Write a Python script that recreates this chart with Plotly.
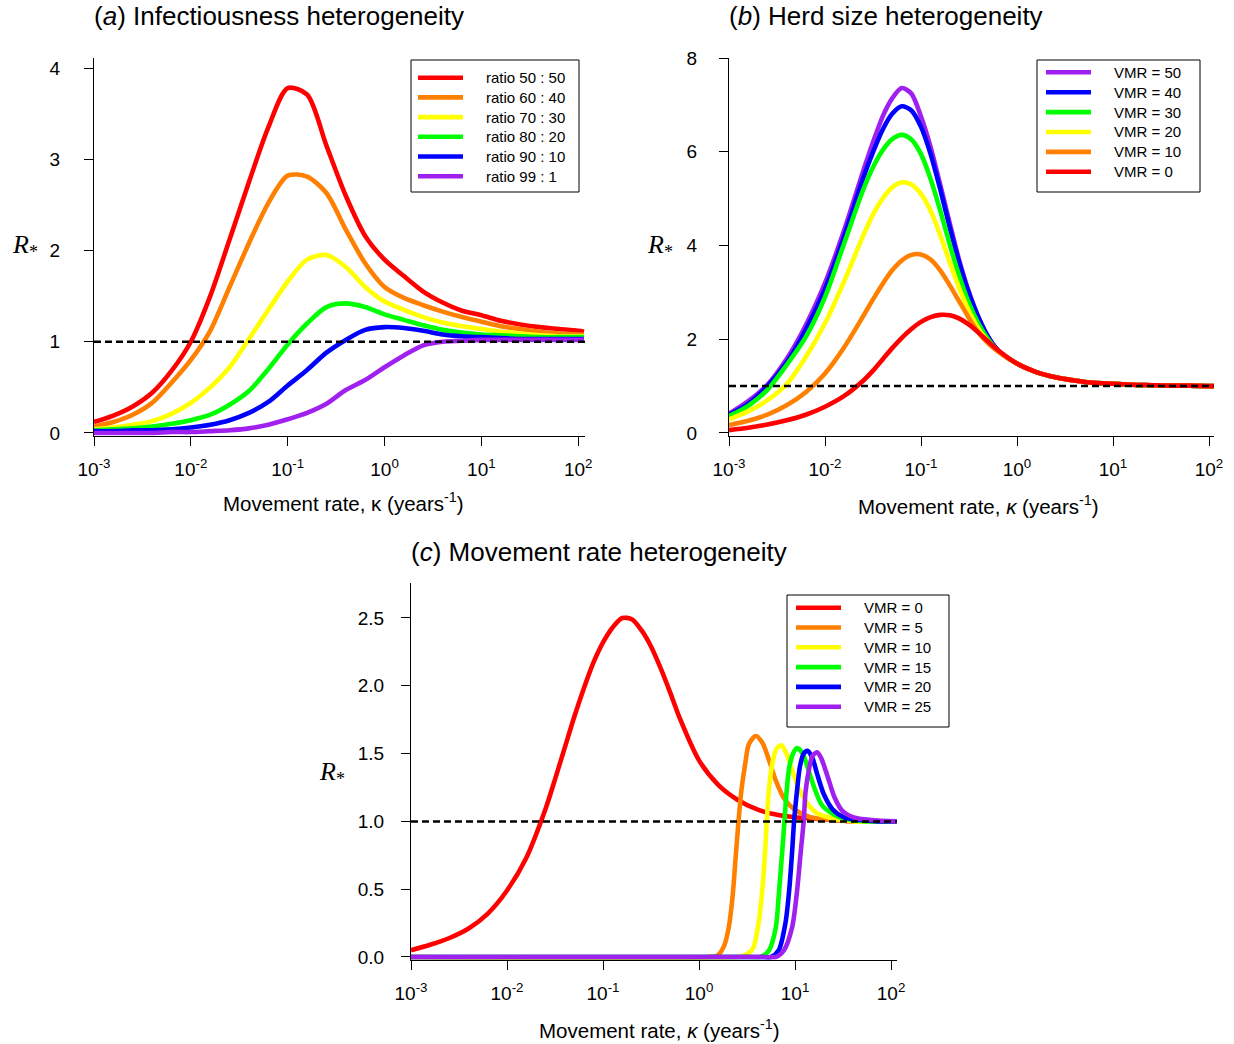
import numpy as np
import plotly.graph_objects as go

# ---------------- data (log10 of movement rate kappa) ----------------
log_kappa = [-3.0, -2.8, -2.6, -2.4, -2.2, -2.0, -1.8, -1.6, -1.4, -1.2, -1.0, -0.8, -0.6,
             -0.4, -0.2, 0.0, 0.2, 0.4, 0.6, 0.8, 1.0, 1.2, 1.4, 1.6, 1.8, 2.0, 2.06]
fine_log_kappa = [-3.0, -2.8, -2.6, -2.4, -2.2, -2.0, -1.8, -1.6, -1.5, -1.4, -1.3, -1.2, -1.1, -1.0,
                  -0.9, -0.8, -0.7, -0.6, -0.5, -0.4, -0.3, -0.2, 0.0, 0.2, 0.4, 0.6, 0.8, 1.0,
                  1.2, 1.4, 1.6, 1.8, 2.0, 2.06]

# (a) Infectiousness heterogeneity  (on log_kappa)
a_names = ["ratio 50 : 50", "ratio 60 : 40", "ratio 70 : 30", "ratio 80 : 20", "ratio 90 : 10", "ratio 99 : 1"]
a_r50 = [0.12, 0.19, 0.29, 0.44, 0.68, 1.00, 1.50, 2.12, 2.75, 3.35, 3.78, 3.71, 3.15, 2.60, 2.16, 1.90,
         1.72, 1.55, 1.43, 1.34, 1.29, 1.23, 1.19, 1.16, 1.14, 1.12, 1.11]
a_r60 = [0.07, 0.12, 0.20, 0.33, 0.55, 0.80, 1.12, 1.60, 2.08, 2.52, 2.82, 2.81, 2.63, 2.23, 1.86, 1.60,
         1.48, 1.40, 1.33, 1.27, 1.22, 1.17, 1.14, 1.11, 1.09, 1.08, 1.08]
a_r70 = [0.04, 0.06, 0.09, 0.13, 0.21, 0.33, 0.50, 0.72, 1.03, 1.35, 1.66, 1.90, 1.95, 1.82, 1.60, 1.44,
         1.35, 1.27, 1.21, 1.17, 1.14, 1.11, 1.09, 1.07, 1.06, 1.06, 1.06]
a_r80 = [0.03, 0.04, 0.05, 0.07, 0.10, 0.14, 0.20, 0.31, 0.46, 0.70, 0.97, 1.20, 1.38, 1.42, 1.38, 1.30,
         1.24, 1.18, 1.13, 1.10, 1.08, 1.07, 1.06, 1.05, 1.05, 1.05, 1.05]
a_r90 = [0.02, 0.02, 0.03, 0.03, 0.04, 0.06, 0.09, 0.14, 0.22, 0.34, 0.52, 0.69, 0.88, 1.02, 1.13, 1.16,
         1.15, 1.12, 1.08, 1.06, 1.05, 1.04, 1.03, 1.03, 1.03, 1.03, 1.03]
a_r99 = [0.00, 0.00, 0.00, 0.00, 0.01, 0.01, 0.02, 0.03, 0.05, 0.09, 0.15, 0.22, 0.32, 0.47, 0.58, 0.72,
         0.85, 0.96, 1.00, 1.01, 1.02, 1.02, 1.02, 1.02, 1.02, 1.02, 1.02]

# (b) Herd size heterogeneity  (on fine_log_kappa)
b_names = ["VMR = 50", "VMR = 40", "VMR = 30", "VMR = 20", "VMR = 10", "VMR = 0"]
b_vmr50 = [0.41, 0.68, 1.03, 1.58, 2.30, 3.20, 4.33, 5.60, 6.20, 6.75, 7.14, 7.36, 7.24, 6.75,
           6.10, 5.30, 4.47, 3.67, 3.00, 2.46, 2.05, 1.77, 1.48, 1.30, 1.19, 1.12, 1.07, 1.05,
           1.03, 1.02, 1.01, 1.01, 1.00, 1.00]
b_vmr40 = [0.39, 0.62, 1.00, 1.50, 2.20, 3.07, 4.20, 5.45, 5.99, 6.47, 6.81, 6.97, 6.88, 6.53,
           5.95, 5.20, 4.38, 3.62, 2.98, 2.46, 2.05, 1.77, 1.48, 1.30, 1.19, 1.12, 1.07, 1.05,
           1.03, 1.02, 1.01, 1.01, 1.00, 1.00]
b_vmr30 = [0.36, 0.58, 0.92, 1.45, 2.05, 2.90, 4.05, 5.20, 5.67, 6.03, 6.27, 6.36, 6.26, 5.95,
           5.42, 4.75, 4.02, 3.34, 2.77, 2.33, 2.00, 1.76, 1.48, 1.30, 1.19, 1.12, 1.07, 1.05,
           1.03, 1.02, 1.01, 1.01, 1.00, 1.00]
b_vmr20 = [0.29, 0.46, 0.70, 1.04, 1.62, 2.34, 3.24, 4.22, 4.66, 5.00, 5.24, 5.35, 5.30, 5.10,
           4.74, 4.22, 3.64, 3.08, 2.60, 2.22, 1.95, 1.75, 1.48, 1.30, 1.19, 1.12, 1.07, 1.05,
           1.03, 1.02, 1.01, 1.01, 1.00, 1.00]
b_vmr10 = [0.17, 0.26, 0.39, 0.59, 0.87, 1.27, 1.83, 2.50, 2.85, 3.18, 3.47, 3.68, 3.80, 3.81,
           3.70, 3.47, 3.15, 2.80, 2.45, 2.14, 1.91, 1.74, 1.48, 1.30, 1.19, 1.12, 1.07, 1.05,
           1.03, 1.02, 1.01, 1.01, 1.00, 1.00]
b_vmr0 = [0.06, 0.11, 0.18, 0.27, 0.39, 0.56, 0.79, 1.12, 1.33, 1.57, 1.81, 2.03, 2.22, 2.37,
          2.47, 2.52, 2.51, 2.44, 2.31, 2.14, 1.95, 1.77, 1.48, 1.30, 1.19, 1.12, 1.07, 1.05,
          1.03, 1.02, 1.01, 1.01, 1.00, 1.00]

# (c) Movement rate heterogeneity
c_names = ["VMR = 0", "VMR = 5", "VMR = 10", "VMR = 15", "VMR = 20", "VMR = 25"]
c_vmr0 = [0.05, 0.09, 0.14, 0.21, 0.32, 0.49, 0.73, 1.09, 1.31, 1.54, 1.77, 1.98, 2.17, 2.32,
          2.43, 2.50, 2.49, 2.41, 2.29, 2.13, 1.95, 1.76, 1.45, 1.27, 1.16, 1.09, 1.05, 1.03,
          1.02, 1.01, 1.00, 1.00, 1.00, 1.00]
c_vmr5_logk = [-3.0, 0.10, 0.19, 0.26, 0.31, 0.35, 0.38, 0.41, 0.44, 0.48, 0.52, 0.59, 0.66, 0.73, 0.80,
               0.885, 0.99, 1.16, 1.41, 1.70, 2.06]
c_vmr5 = [0.0, 0.0, 0.01, 0.08, 0.22, 0.45, 0.72, 0.99, 1.22, 1.42, 1.57, 1.63, 1.58, 1.45, 1.30,
          1.17, 1.09, 1.03, 1.01, 1.00, 1.00]
c_vmr10_logk = [-3.0, 0.40, 0.47, 0.56, 0.62, 0.66, 0.69, 0.705, 0.73, 0.77, 0.81, 0.86, 0.91, 0.97, 1.04,
                1.13, 1.23, 1.41, 1.61, 2.06]
c_vmr10 = [0.0, 0.0, 0.01, 0.06, 0.25, 0.50, 0.80, 1.00, 1.25, 1.45, 1.54, 1.56, 1.50, 1.38, 1.24,
           1.13, 1.06, 1.02, 1.00, 1.00]
c_vmr15_logk = [-3.0, 0.55, 0.64, 0.73, 0.80, 0.83, 0.86, 0.885, 0.91, 0.94, 0.98, 1.02, 1.08, 1.13, 1.20,
                1.28, 1.41, 1.58, 1.75, 2.06]
c_vmr15 = [0.0, 0.0, 0.0, 0.05, 0.22, 0.45, 0.72, 0.95, 1.20, 1.40, 1.50, 1.54, 1.50, 1.40, 1.25,
           1.12, 1.05, 1.01, 1.00, 1.00]
c_vmr20_logk = [-3.0, 0.65, 0.75, 0.83, 0.90, 0.94, 0.97, 0.99, 1.02, 1.05, 1.09, 1.13, 1.18, 1.23, 1.30,
                1.39, 1.51, 1.68, 1.86, 2.06]
c_vmr20 = [0.0, 0.0, 0.0, 0.05, 0.25, 0.50, 0.78, 1.00, 1.22, 1.40, 1.50, 1.52, 1.47, 1.35, 1.20,
           1.09, 1.03, 1.01, 1.00, 1.00]
c_vmr25_logk = [-3.0, 0.70, 0.80, 0.885, 0.97, 1.02, 1.06, 1.09, 1.11, 1.15, 1.18, 1.23, 1.27, 1.34, 1.41,
                1.49, 1.61, 1.79, 2.06]
c_vmr25 = [0.0, 0.0, 0.0, 0.05, 0.22, 0.48, 0.78, 1.00, 1.22, 1.40, 1.48, 1.51, 1.47, 1.33, 1.18,
           1.08, 1.03, 1.01, 1.00]

x_tick_vals = [1e-3, 1e-2, 1e-1, 1e0, 1e1, 1e2]
x_tick_text = ["10<sup>-3</sup>", "10<sup>-2</sup>", "10<sup>-1</sup>", "10<sup>0</sup>",
               "10<sup>1</sup>", "10<sup>2</sup>"]

RED, ORANGE, YELLOW, GREEN, BLUE, PURPLE = "#FF0000", "#FF8000", "#FFFF00", "#00FF00", "#0000FF", "#A020F0"
a_colors = [RED, ORANGE, YELLOW, GREEN, BLUE, PURPLE]
b_colors = [PURPLE, BLUE, GREEN, YELLOW, ORANGE, RED]
c_colors = [RED, ORANGE, YELLOW, GREEN, BLUE, PURPLE]

W, H = 1234, 1044
FONT = "Liberation Sans, Arial, sans-serif"
LW = 4.6

fig = go.Figure()


def k(logs):
    return 10 ** np.array(logs, dtype=float)


def add(xlog, y, name, color, ax):
    fig.add_trace(go.Scatter(
        x=k(xlog), y=y, mode="lines", name=name,
        line=dict(color=color, width=LW, shape="spline", smoothing=0.8),
        xaxis="x" + ax, yaxis="y" + ax, showlegend=False))


for y, nm, c in zip([a_r50, a_r60, a_r70, a_r80, a_r90, a_r99], a_names, a_colors):
    add(log_kappa, y, nm, c, "")
for y, nm, c in zip([b_vmr50, b_vmr40, b_vmr30, b_vmr20, b_vmr10, b_vmr0], b_names, b_colors):
    add(fine_log_kappa, y, nm, c, "2")
c_series = [(fine_log_kappa, c_vmr0), (c_vmr5_logk, c_vmr5), (c_vmr10_logk, c_vmr10),
            (c_vmr15_logk, c_vmr15), (c_vmr20_logk, c_vmr20), (c_vmr25_logk, c_vmr25)]
for (xl, y), nm, c in zip(c_series, c_names, c_colors):
    add(xl, y, nm, c, "3")


def px_x(p):
    return p / W


def px_y(p):
    return 1 - p / H


def xaxis(domain, rng, anchor):
    return dict(type="log", domain=domain, range=rng, anchor=anchor,
                showline=True, linecolor="black", linewidth=1,
                ticks="outside", ticklen=9, tickcolor="black", tickwidth=1,
                tickvals=x_tick_vals, ticktext=x_tick_text,
                tickfont=dict(size=19, color="black", family=FONT),
                ticklabelstandoff=7, automargin=False,
                showgrid=False, zeroline=False, fixedrange=True)


def yaxis(domain, rng, anchor, vals, text, standoff):
    return dict(domain=domain, range=rng, anchor=anchor,
                showline=True, linecolor="black", linewidth=1,
                ticks="outside", ticklen=9, tickcolor="black", tickwidth=1,
                tickvals=vals, ticktext=text,
                tickfont=dict(size=19, color="black", family=FONT),
                ticklabelstandoff=standoff, automargin=False,
                showgrid=False, zeroline=False, fixedrange=True)


fig.update_layout(
    template="none",
    width=W, height=H, margin=dict(l=0, r=0, t=0, b=0, pad=0, autoexpand=False),
    paper_bgcolor="white", plot_bgcolor="white",
    font=dict(family=FONT, color="black"),
    showlegend=False,
    xaxis=xaxis([px_x(94), px_x(585)], [-3, 2.07], "y"),
    yaxis=yaxis([px_y(435.7), px_y(58)], [-0.03, 4.11], "x",
                [0, 1, 2, 3, 4], ["0", "1", "2", "3", "4"], 20),
    xaxis2=xaxis([px_x(729), px_x(1213.8)], [-3, 2.05], "y2"),
    yaxis2=yaxis([px_y(435.8), px_y(58)], [-0.06, 8.0], "x2",
                 [0, 2, 4, 6, 8], ["0", "2", "4", "6", "8"], 18),
    xaxis3=xaxis([px_x(411), px_x(896.8)], [-3, 2.06], "y3"),
    yaxis3=yaxis([px_y(959.7), px_y(583)], [-0.02, 2.758], "x3",
                 [0, 0.5, 1, 1.5, 2, 2.5], ["0.0", "0.5", "1.0", "1.5", "2.0", "2.5"], 13),
)

# dashed reference line R* = 1
for ax in ["", "2", "3"]:
    fig.add_shape(type="line", xref=("x" + ax + " domain"), yref=("y" + ax),
                  x0=0, x1=1, y0=1, y1=1, layer="above",
                  line=dict(color="black", width=2.5, dash="7px,4px"))

# legends (boxed keys with sample lines, as in the original)
legend_specs = [
    # names, colours, box left, top, right, bottom, sample x0, x1, text x, first y, step
    (a_names, a_colors, 411, 60, 579, 192, 418, 463, 484, 77.7, 19.7),
    (b_names, b_colors, 1037, 60, 1200, 192, 1046, 1091, 1112, 72.3, 19.9),
    (c_names, c_colors, 787, 595, 949, 727, 796, 841, 862, 607.7, 19.8),
]
for names, cols, bl, bt, br, bb, sx0, sx1, tx, y0, dy in legend_specs:
    fig.add_shape(type="rect", xref="paper", yref="paper",
                  x0=px_x(bl), x1=px_x(br), y0=px_y(bb), y1=px_y(bt),
                  line=dict(color="black", width=1), fillcolor="white", layer="above")
    for i, (nm, c) in enumerate(zip(names, cols)):
        yy = y0 + i * dy
        fig.add_shape(type="line", xref="paper", yref="paper",
                      x0=px_x(sx0), x1=px_x(sx1), y0=px_y(yy), y1=px_y(yy),
                      line=dict(color=c, width=LW), layer="above")
        fig.add_annotation(text=nm, x=px_x(tx), y=px_y(yy), xref="paper", yref="paper",
                           xanchor="left", yanchor="middle", showarrow=False,
                           font=dict(size=15, color="black", family=FONT))

# titles
titles = [("(<i>a</i>) Infectiousness heterogeneity", 92, 16),
          ("(<i>b</i>) Herd size heterogeneity", 727, 16),
          ("(<i>c</i>) Movement rate heterogeneity", 409, 552)]
for t, xp, yp in titles:
    fig.add_annotation(text=t, x=px_x(xp), y=px_y(yp), xref="paper", yref="paper",
                       xanchor="left", yanchor="middle", showarrow=False,
                       font=dict(size=26, color="black", family=FONT))

# x-axis titles
xlabels = [("Movement rate, κ (years<sup>-1</sup>)", 343, 502),
           ("Movement rate, <i>κ</i> (years<sup>-1</sup>)", 978, 505),
           ("Movement rate, <i>κ</i> (years<sup>-1</sup>)", 660, 1029)]
for t, xp, yp in xlabels:
    fig.add_annotation(text=t, x=px_x(xp), y=px_y(yp), xref="paper", yref="paper",
                       xanchor="center", yanchor="middle", showarrow=False,
                       font=dict(size=20.5, color="black", family=FONT))

# y-axis titles R*
for xp, yp in [(25, 246), (660, 246), (332, 773)]:
    fig.add_annotation(text="<i>R</i><sub>*</sub>", x=px_x(xp), y=px_y(yp),
                       xref="paper", yref="paper", xanchor="center", yanchor="middle",
                       showarrow=False,
                       font=dict(size=26, color="black", family="Liberation Serif, serif"))

fig.write_html("out.html", config={"displayModeBar": False, "staticPlot": True},
               post_script="document.body.style.margin='0px';")
